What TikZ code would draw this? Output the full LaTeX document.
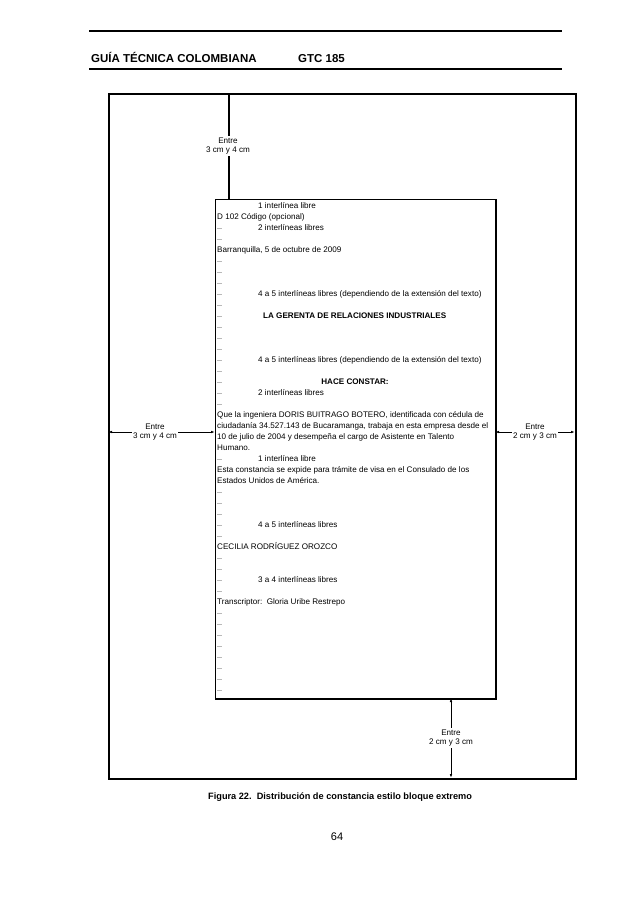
\documentclass[tikz,border=0pt]{standalone}
\usepackage{fontspec}
\setmainfont{Liberation Sans}
\usetikzlibrary{arrows.meta}
\begin{document}
\begin{tikzpicture}[x=1pt,y=-1pt,
  txt/.style={font=\fontsize{8.1}{9.6}\selectfont, inner sep=0pt, anchor=base west},
  btxt/.style={font=\bfseries\fontsize{8.1}{9.6}\selectfont, inner sep=0pt, anchor=base west},
  lab/.style={font=\fontsize{8.1}{9.6}\selectfont, align=center, fill=white, inner sep=1.2pt},
  arr/.style={line width=0.8pt, {Latex[length=4pt,width=2.6pt]}-{Latex[length=4pt,width=2.6pt]}},
  blank/.style={gray!55, line width=0.6pt},
  hdr/.style={font=\bfseries\fontsize{11.5}{13}\selectfont, inner sep=0pt, anchor=base west}]
\useasboundingbox (0,0) rectangle (638,903);
\fill[white] (0,0) rectangle (638,903);
% header
\draw[line width=1.3pt] (89,31) -- (562,31);
\draw[line width=1.3pt] (89,69) -- (562,69);
\node[hdr] (h1) at (91,62) {GUÍA TÉCNICA COLOMBIANA};
\node[hdr] (h2) at (298,62) {GTC 185};
% outer sheet
\node[draw, line width=2pt, anchor=north west, inner sep=0pt, minimum width=467pt, minimum height=685pt] (sheet) at (108,93) {};
% letter box
\node[draw, line width=0.8pt, anchor=north west, inner sep=0pt, minimum width=280pt, minimum height=499pt] (letter) at (215,199) {};
\draw[line width=2pt] (letter.north east) -- (letter.south east) -- (letter.south west);
% connector coordinates
\coordinate (t1) at (229,93);
\coordinate (t2) at (229,199);
\coordinate (l1) at (108,432);
\coordinate (l2) at (215,432);
\coordinate (r1) at (495,432);
\coordinate (r2) at (575,432);
\coordinate (b1) at (451,698);
\coordinate (b2) at (451,778);
\draw[line width=1.8pt] (t1) -- (t2);
\node[lab] (tl) at (228,146) {Entre\\3 cm y 4 cm};
\draw[arr] (l1) -- (l2);
\node[lab] (ll) at (155,432) {Entre\\3 cm y 4 cm};
\draw[arr] (r1) -- (r2);
\node[lab] (rl) at (535,432) {Entre\\2 cm y 3 cm};
\draw[arr] (b1) -- (b2);
\node[lab] (bl) at (451,738) {Entre\\2 cm y 3 cm};
% blank-line marks
\foreach \k in {2,3,5,6,7,8,9,10,11,12,13,14,15,16,17,18,23,26,27,28,29,30,32,33,34,35,37,38,39,40,41,42,43,44}
  \draw[blank] (217,{206+11*\k}) -- (222,{206+11*\k});
% letter text (slot k: centre y = 205 + 11k, baseline +3)
\node[txt] (s0) at (258,208) {1 interlínea libre};
\node[txt] (s1) at (217,219) {D 102 Código (opcional)};
\node[txt] (s2) at (258,230) {2 interlíneas libres};
\node[txt] (s4) at (217,252) {Barranquilla, 5 de octubre de 2009};
\node[txt] (s8) at (258,296) {4 a 5 interlíneas libres (dependiendo de la extensión del texto)};
\node[btxt] (s10) at (263,318) {LA GERENTA DE RELACIONES INDUSTRIALES};
\node[txt] (s14) at (258,362) {4 a 5 interlíneas libres (dependiendo de la extensión del texto)};
\node[btxt, anchor=base] (s16) at (355,384) {HACE CONSTAR:};
\node[txt] (s17) at (258,395) {2 interlíneas libres};
\node[txt] (s19) at (217,417) {Que la ingeniera DORIS BUITRAGO BOTERO, identificada con cédula de};
\node[txt] (s20) at (217,428) {ciudadanía 34.527.143 de Bucaramanga, trabaja en esta empresa desde el};
\node[txt] (s21) at (217,439) {10 de julio de 2004 y desempeña el cargo de Asistente en Talento};
\node[txt] (s22) at (217,450) {Humano.};
\node[txt] (s23) at (258,461) {1 interlínea libre};
\node[txt] (s24) at (217,472) {Esta constancia se expide para trámite de visa en el Consulado de los};
\node[txt] (s25) at (217,483) {Estados Unidos de América.};
\node[txt] (s29) at (258,527) {4 a 5 interlíneas libres};
\node[txt] (s31) at (217,549) {CECILIA RODRÍGUEZ OROZCO};
\node[txt] (s34) at (258,582) {3 a 4 interlíneas libres};
\node[txt] (s36) at (217,604) {Transcriptor:\ \ Gloria Uribe Restrepo};
% caption and page number
\node[font=\bfseries\fontsize{9.2}{11}\selectfont, inner sep=0pt, anchor=base west] (cap) at (208,799) {Figura 22.\ \ Distribución de constancia estilo bloque extremo};
\node[font=\fontsize{11}{13}\selectfont, inner sep=0pt] (pg) at (337,837) {64};
\end{tikzpicture}
\end{document}
